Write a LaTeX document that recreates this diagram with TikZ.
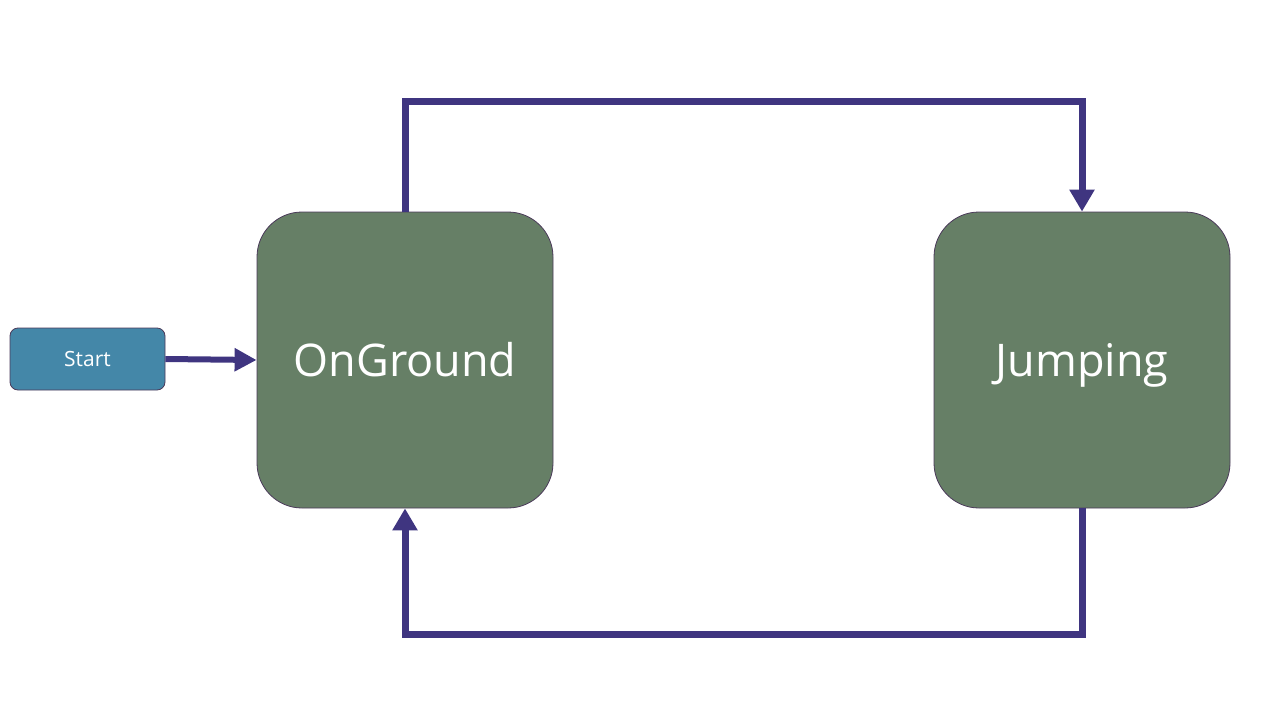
\documentclass[tikz,border=0pt]{standalone}
\usepackage{fontspec}
\setmainfont{Open Sans}
\usetikzlibrary{arrows.meta}
\definecolor{stategreen}{HTML}{667F66}
\definecolor{startblue}{HTML}{4487A8}
\definecolor{arrowpurple}{HTML}{3F3580}
\definecolor{edgepurple}{HTML}{4B3A5A}
\tikzset{
  state/.style={draw=edgepurple, line width=0.8pt, fill=stategreen, rounded corners=45pt,
    minimum width=296pt, minimum height=296pt, inner sep=0pt, text=white,
    text height=33pt, text depth=0pt, font=\fontsize{45}{48}\selectfont},
  startbox/.style={draw=edgepurple, line width=0.8pt, fill=startblue, rounded corners=8pt,
    minimum width=155pt, minimum height=62pt, inner sep=0pt, text=white,
    text height=15pt, text depth=0pt, font=\fontsize{21}{24}\selectfont},
  conn/.style={draw=arrowpurple, line width=7pt, -{Triangle[length=22pt,width=24pt]}},
}
\begin{document}
\begin{tikzpicture}[x=1pt,y=-1pt]
\useasboundingbox (0,0) rectangle (1280,720);
\node[startbox] (start) at (87.5,359) {Start};
\node[state] (on) at (405,360) {OnGround};
\node[state] (jump) at (1082,360) {Jumping};
\coordinate (tl) at (405,101);
\coordinate (tr) at (1082,101);
\coordinate (br) at (1082,634);
\coordinate (bl) at (405,634);
\draw[conn, -{Triangle[length=22pt,width=22pt]}, line width=6pt] (start.east) -- (on.west);
\draw[conn] (on.north) -- (tl) -- (tr) -- (jump.north);
\draw[conn] (jump.south) -- (br) -- (bl) -- (on.south);
\end{tikzpicture}
\end{document}
